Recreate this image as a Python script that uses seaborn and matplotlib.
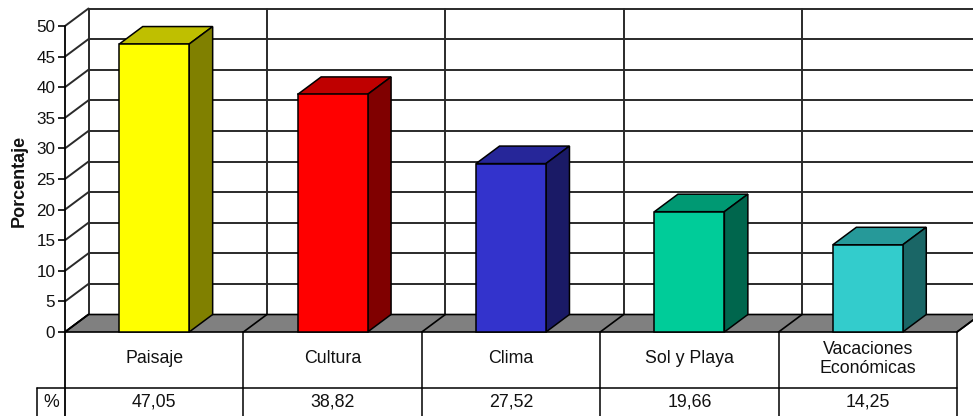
import matplotlib
matplotlib.use("Agg")
import matplotlib.pyplot as plt
from matplotlib.patches import Polygon
import seaborn as sns

# Motivos de viaje y su porcentaje
categorias = ["Paisaje", "Cultura", "Clima", "Sol y Playa", "Vacaciones\nEconómicas"]
porcentajes = [47.05, 38.82, 27.52, 19.66, 14.25]
colores_frente = ["#FFFF00", "#FF0000", "#3333CC", "#00CC99", "#33CCCC"]
ticks_y = [0, 5, 10, 15, 20, 25, 30, 35, 40, 45, 50]


def sombra(hex_color, factor):
    r, g, b = matplotlib.colors.to_rgb(hex_color)
    return (r * factor, g * factor, b * factor)


sns.set_theme(style="white")
plt.rcParams["font.family"] = ["Liberation Sans", "DejaVu Sans"]

W, H, DPI = 973, 416, 100
fig = plt.figure(figsize=(W / DPI, H / DPI), dpi=DPI)

# axes occupies the plotting region; the left margin holds tick labels
ax = fig.add_axes([65 / W, 0, (W - 65) / W, 1])
px_cat = 178.4          # pixels per category
px_val = 6.12           # pixels per percentage point
x_min = -0.5
x_max = x_min + (W - 65) / px_cat
y_min = -(H - 332) / px_val
y_max = 332 / px_val

dx = 23.5 / px_cat      # depth offset (horizontal)
dy = 17.5 / px_val      # depth offset (vertical)
n = len(categorias)
linea = "#2a2a2a"
texto = "#111111"

# bars (front faces)
sns.barplot(x=categorias, y=porcentajes, hue=categorias, palette=colores_frente,
            width=0.392, edgecolor="black", linewidth=1.1, legend=False,
            saturation=1, ax=ax, zorder=6)

# back wall gridlines
for v in ticks_y[1:]:
    ax.plot([x_min + dx, x_max + 1], [v + dy, v + dy], color=linea, lw=1.4, zorder=1)
for k in range(0, n + 1):
    ax.plot([k - 0.5 + dx] * 2, [dy, 50 + dy], color=linea, lw=1.4, zorder=1)

# side wall lines
for v in ticks_y:
    ax.plot([x_min, x_min + dx], [v, v + dy], color=linea, lw=1.4, zorder=1,
            clip_on=False)

# floor
ax.add_patch(Polygon([(x_min, 0), (n - 0.5, 0), (n - 0.5 + dx, dy), (x_min + dx, dy)],
                     closed=True, facecolor="#808080", edgecolor="black", lw=1.2,
                     zorder=2))
for k in range(0, n + 1):
    ax.plot([k - 0.5, k - 0.5 + dx], [0, dy], color="black", lw=1.2, zorder=3)

# 3D top and side faces of each bar
for patch, col in zip(ax.patches, colores_frente):
    x0 = patch.get_x()
    w = patch.get_width()
    h = patch.get_height()
    ax.add_patch(Polygon([(x0, h), (x0 + w, h), (x0 + w + dx, h + dy), (x0 + dx, h + dy)],
                         closed=True, facecolor=sombra(col, 0.75), edgecolor="black",
                         lw=1.1, zorder=5))
    ax.add_patch(Polygon([(x0 + w, 0), (x0 + w + dx, dy), (x0 + w + dx, h + dy), (x0 + w, h)],
                         closed=True, facecolor=sombra(col, 0.5), edgecolor="black",
                         lw=1.1, zorder=5))

# front value axis, continued down through the data table
ax.plot([x_min, x_min], [50, y_min], color="black", lw=1.3, zorder=7, clip_on=False)

# data table below the chart
fila = -(388 - 332) / px_val
x_pct = x_min - 28 / px_cat
ax.plot([x_pct, n - 0.5], [fila, fila], color="black", lw=1.1, zorder=7, clip_on=False)
ax.plot([x_pct, x_pct], [fila, y_min], color="black", lw=1.1, zorder=7, clip_on=False)
for k in range(1, n + 1):
    ax.plot([k - 0.5, k - 0.5], [0, y_min], color="black", lw=1.1, zorder=7)

for i, (cat, val) in enumerate(zip(categorias, porcentajes)):
    ax.text(i, -4.35, cat, ha="center", va="center", fontsize=12.8, color=texto,
            linespacing=1.15)
    ax.text(i, -11.45, f"{val:.2f}".replace(".", ","), ha="center", va="center",
            fontsize=12.8, color=texto)
ax.text((x_pct + x_min) / 2, -11.45, "%", ha="center", va="center", fontsize=12.8,
        color=texto, clip_on=False)

# axes styling
ax.set_xlim(x_min, x_max)
ax.set_ylim(y_min, y_max)
ax.set_xticks([])
ax.set_xlabel("")
ax.set_yticks(ticks_y)
ax.set_yticklabels([str(t) for t in ticks_y])
ax.tick_params(axis="y", direction="out", length=5, width=1.2, color="black",
               pad=2, labelsize=12.3, labelcolor=texto, left=True)
ax.set_ylabel("Porcentaje", fontsize=13, fontweight="bold", color=texto)
ax.yaxis.set_label_coords(-37 / (W - 65), (H - 181) / H)
for s in ax.spines.values():
    s.set_visible(False)
ax.set_facecolor("white")

fig.savefig("out.png", dpi=DPI, facecolor="white")
